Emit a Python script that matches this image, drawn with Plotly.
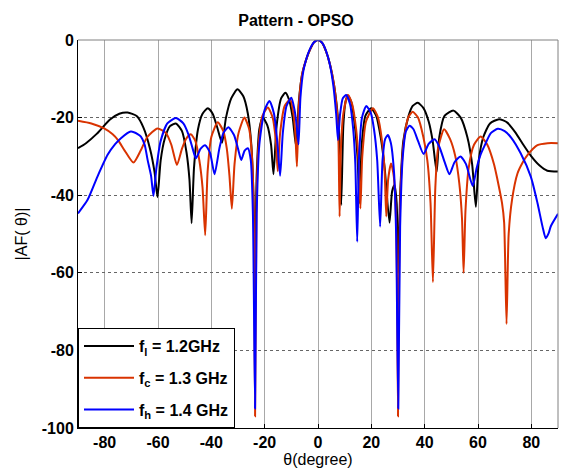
import plotly.graph_objects as go

# ---- data ----
theta_l = [-90, -87, -83, -78, -74.5, -71.4, -68, -65.5, -63, -61.3, -60.2, -59, -57.5, -55.5, -53.3,
           -51, -49.3, -48.2, -47.4, -46.5, -45, -43.3, -41.3, -39.5, -37.8, -36, -34.5, -32.5, -30.2,
           -28, -26.3, -25, -24.2, -23.6, -23.0, -22, -20.7, -19, -17.6, -16.7, -15.5, -13.8, -12.2,
           -10.8, -9.5, -8.2, -7.2, -6, -4.5, -3, -1.5, 0, 1.5, 3, 4.5, 6, 7.2, 8, 8.7, 9.5, 10.3, 11.2,
           12.5, 13.8, 14.8, 15.6, 16.4, 17.8, 19.9, 21.8, 23.5, 25, 26.8, 27.8, 28.7, 29.5, 30.1, 30.8,
           32, 34, 35.5, 37.4, 39.5, 41.5, 43, 44.5, 45.5, 47.5, 50.8, 53.5, 56, 57.8, 59.2, 60.3, 62,
           64.5, 67.9, 71, 74, 77, 80, 83, 86, 90]
af_l = [-27.9, -26.6, -24.2, -20.5, -19.0, -18.7, -19.6, -22.5, -28, -34, -40.5, -31, -25.5, -22.2, -21.5,
        -23.5, -29, -36, -47.2, -33, -23, -19, -17.6, -19, -22.5, -26.5, -20, -15, -12.7,
        -14.5, -19, -27, -40, -60, -35, -23, -20, -22, -27, -34.6, -22, -15, -13.6,
        -15.5, -20, -27.5, -16, -9, -5.2, -2.5, -0.6, 0, -0.7, -2.9, -6.3, -11.5, -18, -25, -42.5, -22, -16, -14.3,
        -16, -22, -30, -42, -27, -19.5, -17.6, -19.5, -25, -33, -47.1, -39, -37.4, -42, -60, -40,
        -26, -19.5, -17, -16.2, -17.5, -21, -26, -34, -25, -19.5, -18.2, -20, -25, -32, -43, -31, -25,
        -21.5, -20.4, -21.3, -23.8, -27, -30, -32.3, -33.7, -33.9]

theta_c = [-90, -85, -80.2, -77, -75, -72.5, -69.2, -66.5, -64, -60.2, -57, -55, -52.9, -51, -49.5, -47.7,
           -46, -44.5, -43.3, -42.3, -41.4, -40, -37.6, -35.5, -34.2, -33.2, -32.3, -31.3, -29.8, -27.6,
           -25.8, -24.6, -24.0, -23.6, -23.1, -22.4, -20.8, -18.8, -17, -15.8, -15.1, -14.2, -12.5, -10.4,
           -9.2, -8.5, -7.9, -7.2, -6, -4.5, -3, -1.5, 0, 1.5, 3, 4.5, 6, 7.2, 7.7, 8.1, 8.6, 9.5, 11.2,
           12.8, 14.3, 15.2, 15.9, 16.6, 18, 20.6, 22.5, 24, 25, 25.6, 26.3, 27.4, 28.4, 29.2, 29.6, 30,
           30.4, 31, 32.2, 33.8, 35.5, 37.5, 39.5, 41, 42.2, 43.1, 44, 45, 47.3, 49.5, 51.5, 53, 54, 54.6,
           55.3, 56.5, 58.5, 61, 63.5, 66, 67.3, 69, 69.8, 70.7, 71.5, 72.8, 74.8, 76.8, 78.6, 82.3, 86.1, 90]
af_c = [-20.8, -21.5, -22.8, -24.3, -25.8, -28.5, -31.6, -28.5, -25, -22.8, -24, -27, -32.2, -28, -25.5, -24.3,
        -26, -31, -38, -50.3, -34, -25, -21.2, -23.5, -28, -35, -43.5, -32, -24, -20,
        -23, -32, -50, -97, -45, -28, -19.5, -17.4, -20, -26, -33.8, -24, -17, -15.3,
        -19, -24, -32.6, -17, -9, -5.2, -2.5, -0.6, 0, -0.7, -2.9, -6.3, -11.5, -19, -27, -45.5, -28, -19, -14.2,
        -16.5, -23, -31, -43.4, -30, -21, -17.6, -20, -26, -34, -45.5, -36, -31.8, -35, -45, -60, -97,
        -60, -38, -26, -20, -18.5, -20, -25, -31, -42, -62.4, -38, -28, -23, -25.5, -30, -37, -46, -60,
        -44, -33, -27, -24.9, -27, -32, -36, -42, -47, -73.2, -50, -41, -34.4, -31.5, -29.6, -27.1, -26.6, -26.6]

theta_h = [-90, -86.4, -82.7, -78.9, -76, -73.9, -70.2, -67.5, -66.4, -65, -63.9, -62.6, -61.7, -60.6, -59,
           -56.5, -53.3, -50.5, -48.5, -47, -45.8, -44, -42.3, -40.5, -38.8, -37, -35.5, -33.6, -31.5, -30,
           -28.8, -27.5, -26.3, -25.2, -24.4, -23.6, -23.0, -22, -20, -18.2, -16.5, -15.3, -14.2, -13.2,
           -11.8, -10, -8.8, -8, -7.3, -6.6, -5.5, -4.3, -3, -1.5, 0, 1.5, 3, 4.5, 5.8, 6.8, 7.5, 8.3, 9.3,
           10.6, 12, 13.2, 14, 14.7, 15.4, 16.5, 18.1, 19.8, 21, 22.2, 23.3, 24.2, 25.2, 26.2, 27.3, 28.5,
           29.3, 30.1, 30.8, 31.8, 33, 34.3, 35.8, 37.5, 39.6, 41.5, 43.7, 45.5, 47.5, 49.3, 51.2, 53.4,
           55.5, 58, 59.5, 61, 62.3, 64.8, 67.4, 70, 72.5, 76, 79.8, 82.3, 84.2, 85.4, 86.5, 87.3, 90]
af_h = [-44.7, -41.2, -35.2, -29.6, -26.8, -25.3, -23.6, -24.3, -24.9, -27, -30.9, -35, -40.2, -33, -26,
        -21.5, -20.1, -21.5, -24.5, -28, -30.5, -28, -27.1, -29, -34.6, -28, -24, -22.5, -24.5, -28,
        -30.9, -28.5, -27.9, -31, -45, -95, -45, -27, -18, -15.7, -19, -26, -35, -24,
        -17, -14.9, -18, -22, -26.9, -15, -8, -4.7, -2.3, -0.6, 0, -0.7, -2.8, -6.5, -12, -19, -25.8, -19, -15,
        -14.2, -16.5, -23, -32, -52, -30, -20, -17, -18.8, -23, -31, -48.1, -31, -25.5, -24.5, -26.5, -34,
        -50, -95, -48, -30, -23.5, -22.1, -23, -26, -29.4, -26.8, -25.6, -27.5, -31.5, -34.6, -31.5, -30,
        -32, -37.6, -33, -29.5, -27.5, -24, -22.9, -23.5, -25.2, -29.2, -35.2, -42, -48.1, -51.1, -49.8, -48, -44.8]

x_ticks = [-80, -60, -40, -20, 0, 20, 40, 60, 80]
x_ticktext = ["-80", "-60", "-40", "-20", "0", "20", "40", "60", "80"]
y_ticks = [-100, -80, -60, -40, -20, 0]
y_ticktext = ["-100", "-80", "-60", "-40", "-20", "0"]

series_names = ["f<sub>l</sub> = 1.2GHz", "f<sub>c</sub> = 1.3 GHz", "f<sub>h</sub> = 1.4 GHz"]
series_colors = ["#000000", "#d93300", "#0000ff"]

FONT = "Liberation Sans, Arial, sans-serif"

fig = go.Figure()
for name, color, xs, ys in zip(series_names, series_colors,
                               [theta_l, theta_c, theta_h], [af_l, af_c, af_h]):
    fig.add_trace(go.Scatter(x=xs, y=ys, mode="lines", name=name, legendgroup=name,
                             line=dict(color=color, width=2, shape="spline", smoothing=0.6)))

fig.update_layout(
    width=561, height=472,
    margin=dict(l=78, r=3, t=40, b=44),
    paper_bgcolor="white", plot_bgcolor="white",
    font=dict(family=FONT, color="black"),
    title=dict(text="Pattern - OPSO", x=296 / 561, xref="container", xanchor="center",
               y=1 - 20 / 472, yref="container", yanchor="middle",
               font=dict(family=FONT, size=16, weight="bold", color="black")),
    showlegend=True,
    legend=dict(x=0, y=0, xanchor="left", yanchor="bottom", bgcolor="white",
                bordercolor="black", borderwidth=1, tracegroupgap=8, itemwidth=50,
                font=dict(family=FONT, size=16, weight="bold", color="black")),
)
fig.update_xaxes(range=[-90, 90], tickvals=x_ticks, ticktext=x_ticktext,
                 tickfont=dict(family=FONT, size=16, weight="bold", color="black"),
                 showgrid=True, gridcolor="#a8a8a8", gridwidth=1, zeroline=False,
                 showline=True, linecolor="black", linewidth=1,
                 ticks="inside", ticklen=4, tickcolor="black",
                 title=dict(text="θ(degree)", font=dict(family=FONT, size=16, color="black"), standoff=0))
fig.update_yaxes(range=[-100, 0], tickvals=y_ticks, ticktext=y_ticktext,
                 tickfont=dict(family=FONT, size=16, weight="bold", color="black"),
                 showgrid=True, gridcolor="#666666", gridwidth=1, griddash="dot", zeroline=False,
                 showline=True, linecolor="black", linewidth=1,
                 ticks="inside", ticklen=4, tickcolor="black",
                 title=dict(text="|AF( θ)|", font=dict(family=FONT, size=16, color="black"), standoff=10))
# gray top and right frame lines
fig.add_shape(type="line", xref="paper", yref="paper", x0=0, x1=1, y0=1, y1=1,
              line=dict(color="#808080", width=1))
fig.add_shape(type="line", xref="paper", yref="paper", x0=1, x1=1, y0=0, y1=1,
              line=dict(color="#808080", width=1))

fig.write_html("out.html")
